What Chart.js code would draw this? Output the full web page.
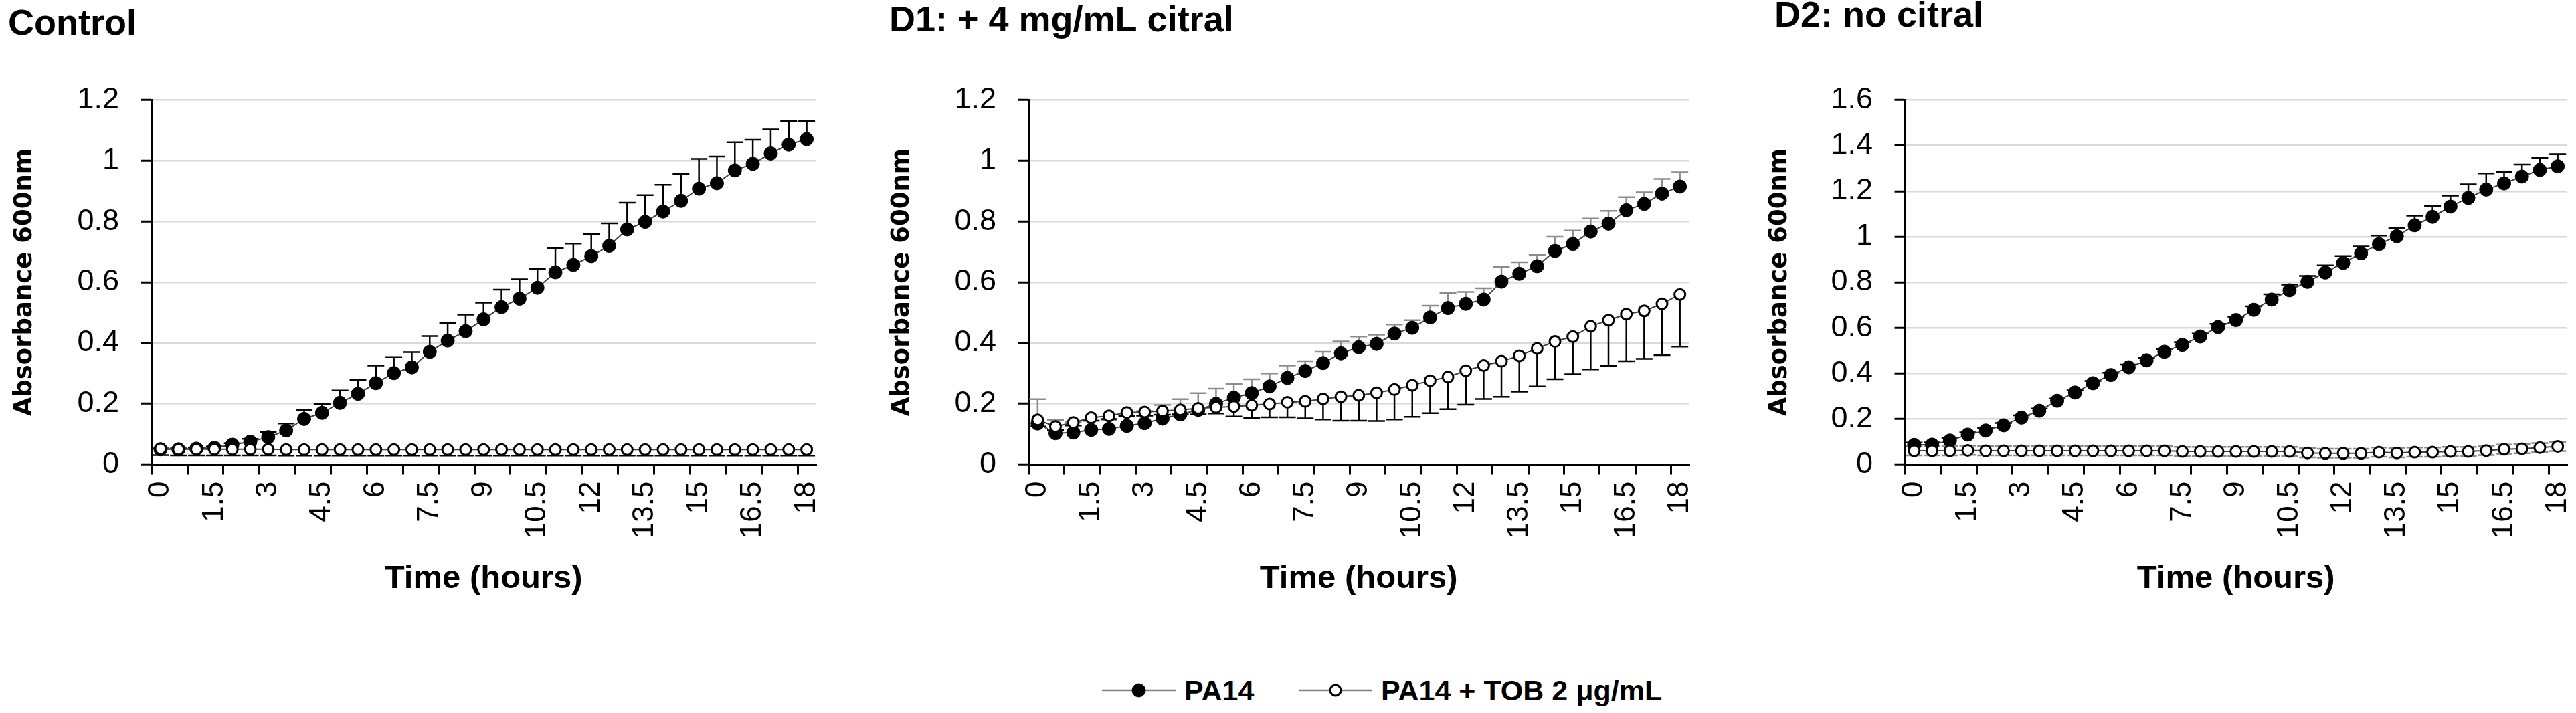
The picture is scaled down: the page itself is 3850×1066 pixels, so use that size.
<!DOCTYPE html>
<html>
<head>
<meta charset="utf-8">
<script src="https://cdn.jsdelivr.net/npm/chart.js@4.4.1/dist/chart.umd.min.js"></script>
<style>
  html, body { margin: 0; padding: 0; background: #fff; overflow: hidden; }
  body { width: 3850px; height: 1066px; position: relative; }
  canvas.panel { position: absolute; top: 0; }
  #legend { position: absolute; top: 1005px; left: 1647px; height: 54px; display: flex; align-items: center;
            font: bold 43px 'Liberation Sans', sans-serif; color: #000; white-space: nowrap; }
  #legend .item { display: flex; align-items: center; }
  #legend .item:first-child { width: 294px; }
  #legend span { margin-left: 13px; }
</style>
</head>
<body>
<canvas id="chartControl" class="panel" width="1259" height="900" style="left:0px"></canvas>
<canvas id="chartD1" class="panel" width="1253" height="900" style="left:1311px"></canvas>
<canvas id="chartD2" class="panel" width="1210" height="900" style="left:2640px"></canvas>
<div id="legend"></div>
<script>
// time points (hours), one reading every 30 min
const hours = ['0', '0.5', '1', '1.5', '2', '2.5', '3', '3.5', '4', '4.5', '5', '5.5', '6', '6.5', '7', '7.5', '8', '8.5',
  '9', '9.5', '10', '10.5', '11', '11.5', '12', '12.5', '13', '13.5', '14', '14.5', '15', '15.5', '16', '16.5', '17', '17.5', '18'];
const seriesNames = ['PA14', 'PA14 + TOB 2 μg/mL'];
const panelTitles = ['Control', 'D1: + 4 mg/mL citral', 'D2: no citral'];
const yTitle = 'Absorbance 600nm';
const xTitle = 'Time (hours)';
const yMaxes = [1.2, 1.2, 1.6];

// Control
const controlPA14 = [0.05, 0.05, 0.052, 0.055, 0.065, 0.075, 0.09, 0.112, 0.15, 0.17, 0.203, 0.233, 0.268, 0.301, 0.32, 0.371,
  0.408, 0.439, 0.478, 0.518, 0.546, 0.582, 0.633, 0.657, 0.686, 0.72, 0.774, 0.799, 0.833, 0.868, 0.908, 0.926, 0.968, 0.99,
  1.024, 1.053, 1.071];
const controlPA14Err = [0.003, 0.003, 0.003, 0.004, 0.005, 0.009, 0.017, 0.023, 0.03, 0.03, 0.041, 0.046, 0.058, 0.053, 0.05,
  0.052, 0.057, 0.054, 0.055, 0.058, 0.064, 0.062, 0.08, 0.07, 0.072, 0.074, 0.088, 0.088, 0.088, 0.089, 0.098, 0.088, 0.093,
  0.079, 0.079, 0.078, 0.06];
const controlTOB = [0.052, 0.05, 0.05, 0.05, 0.05, 0.05, 0.05, 0.049, 0.049, 0.049, 0.049, 0.049, 0.049, 0.049, 0.049, 0.049,
  0.049, 0.049, 0.049, 0.049, 0.049, 0.049, 0.049, 0.049, 0.049, 0.049, 0.049, 0.049, 0.049, 0.049, 0.049, 0.049, 0.049, 0.049,
  0.049, 0.049, 0.049];
const controlTOBErr = [0.021, 0.02, 0.02, 0.02, 0.02, 0.02, 0.02, 0.02, 0.02, 0.02, 0.02, 0.02, 0.02, 0.02, 0.02, 0.02, 0.02,
  0.02, 0.02, 0.02, 0.02, 0.02, 0.02, 0.02, 0.02, 0.02, 0.02, 0.02, 0.02, 0.02, 0.02, 0.02, 0.02, 0.02, 0.02, 0.02, 0.02];

// D1: + 4 mg/mL citral
const d1PA14 = [0.135, 0.103, 0.105, 0.114, 0.117, 0.127, 0.136, 0.151, 0.165, 0.18, 0.2, 0.22, 0.235, 0.257, 0.285, 0.308,
  0.334, 0.366, 0.386, 0.397, 0.431, 0.45, 0.484, 0.515, 0.529, 0.543, 0.602, 0.628, 0.653, 0.703, 0.726, 0.767, 0.793, 0.837,
  0.858, 0.892, 0.915];
const d1PA14Err = [0.08, 0.044, 0.035, 0.03, 0.03, 0.035, 0.04, 0.045, 0.05, 0.055, 0.05, 0.046, 0.046, 0.043, 0.041, 0.032,
  0.037, 0.039, 0.035, 0.03, 0.03, 0.025, 0.039, 0.05, 0.039, 0.037, 0.048, 0.038, 0.037, 0.047, 0.044, 0.043, 0.042, 0.043,
  0.038, 0.048, 0.047];
const d1TOB = [0.147, 0.125, 0.138, 0.154, 0.16, 0.171, 0.173, 0.176, 0.18, 0.185, 0.188, 0.191, 0.195, 0.199, 0.205, 0.208,
  0.216, 0.223, 0.228, 0.236, 0.247, 0.261, 0.276, 0.288, 0.309, 0.326, 0.34, 0.358, 0.382, 0.405, 0.421, 0.455, 0.475, 0.495,
  0.506, 0.529, 0.56];
const d1TOBErr = [0.022, 0.012, 0.01, 0.01, 0.01, 0.012, 0.012, 0.012, 0.015, 0.02, 0.02, 0.033, 0.042, 0.044, 0.05, 0.056,
  0.068, 0.079, 0.084, 0.093, 0.099, 0.104, 0.107, 0.106, 0.112, 0.11, 0.117, 0.118, 0.125, 0.124, 0.124, 0.142, 0.151, 0.155,
  0.158, 0.169, 0.172];

// D2: no citral
const d2PA14 = [0.086, 0.087, 0.105, 0.131, 0.149, 0.172, 0.206, 0.236, 0.28, 0.316, 0.357, 0.393, 0.427, 0.457, 0.495, 0.525,
  0.562, 0.603, 0.634, 0.679, 0.724, 0.765, 0.802, 0.843, 0.885, 0.927, 0.967, 1.002, 1.05, 1.087, 1.132, 1.17, 1.207, 1.234,
  1.264, 1.293, 1.309];
const d2PA14Err = [0.01, 0.01, 0.01, 0.01, 0.01, 0.01, 0.01, 0.01, 0.01, 0.01, 0.01, 0.01, 0.012, 0.012, 0.012, 0.012, 0.013,
  0.014, 0.015, 0.015, 0.023, 0.025, 0.026, 0.031, 0.03, 0.03, 0.038, 0.036, 0.042, 0.048, 0.048, 0.06, 0.071, 0.051, 0.053,
  0.054, 0.053];
const d2TOB = [0.06, 0.06, 0.06, 0.062, 0.06, 0.06, 0.06, 0.06, 0.06, 0.06, 0.06, 0.06, 0.06, 0.06, 0.06, 0.057, 0.057, 0.057,
  0.057, 0.057, 0.057, 0.057, 0.051, 0.049, 0.049, 0.049, 0.054, 0.051, 0.054, 0.054, 0.057, 0.057, 0.061, 0.067, 0.069, 0.074,
  0.079];
const d2TOBErr = [0.02, 0.02, 0.02, 0.02, 0.02, 0.02, 0.02, 0.02, 0.02, 0.02, 0.02, 0.02, 0.02, 0.02, 0.02, 0.02, 0.02, 0.02,
  0.02, 0.02, 0.02, 0.02, 0.02, 0.02, 0.02, 0.02, 0.02, 0.02, 0.02, 0.02, 0.02, 0.02, 0.02, 0.02, 0.02, 0.02, 0.02];

const textFont = "'Liberation Sans', sans-serif";

// draws the SD bars behind the markers, using the chart's own y scale
const errorBarPlugin = {
  id: 'errorBars',
  beforeDatasetsDraw(chart) {
    const ctx = chart.ctx;
    const yScale = chart.scales.y;
    chart.data.datasets.forEach((ds, di) => {
      const eb = ds.errorBars;
      if (!eb) return;
      const meta = chart.getDatasetMeta(di);
      ctx.save();
      ctx.strokeStyle = eb.color;
      ctx.lineWidth = 2.5;
      meta.data.forEach((pt, i) => {
        const value = ds.data[i];
        eb.directions.forEach(dir => {
          const yEnd = yScale.getPixelForValue(value + dir * eb.values[i]);
          ctx.beginPath();
          ctx.moveTo(pt.x, pt.y);
          ctx.lineTo(pt.x, yEnd);
          ctx.moveTo(pt.x - 12.5, yEnd);
          ctx.lineTo(pt.x + 12.5, yEnd);
          ctx.stroke();
        });
      });
      ctx.restore();
    });
  }
};

function buildDatasets(pa14, pa14Err, pa14ErrColor, tob, tobErr, tobErrColor, tobDirs) {
  return [
    {
      label: seriesNames[0],
      data: pa14,
      order: 1,
      borderColor: '#404040',
      borderWidth: 2,
      pointRadius: 10,
      pointHoverRadius: 10,
      pointBackgroundColor: '#000',
      pointBorderColor: '#000',
      pointBorderWidth: 1,
      errorBars: { values: pa14Err, color: pa14ErrColor, directions: [1] }
    },
    {
      label: seriesNames[1],
      data: tob,
      order: 0,
      borderColor: '#404040',
      borderWidth: 2,
      pointRadius: 8,
      pointHoverRadius: 8,
      pointBackgroundColor: '#fff',
      pointBorderColor: '#000',
      pointBorderWidth: 3,
      errorBars: { values: tobErr, color: tobErrColor, directions: tobDirs }
    }
  ];
}

function makePanel(canvasId, idx, datasets, lay) {
  const ctx = document.getElementById(canvasId).getContext('2d');
  return new Chart(ctx, {
    type: 'line',
    data: { labels: hours, datasets: datasets },
    plugins: [errorBarPlugin],
    options: {
      responsive: false,
      animation: false,
      devicePixelRatio: 1,
      layout: { padding: { left: lay.padLeft, right: lay.padRight, top: 0, bottom: 0 } },
      plugins: {
        legend: { display: false },
        tooltip: { enabled: false },
        title: {
          display: true,
          text: panelTitles[idx],
          align: 'start',
          color: '#000',
          font: { family: textFont, size: 54, weight: 'bold', lineHeight: 1.2 },
          padding: { top: lay.titleTop, bottom: 149.5 - 64.8 - lay.titleTop }
        }
      },
      scales: {
        x: {
          type: 'category',
          offset: true,
          grid: {
            offset: true,
            drawOnChartArea: false,
            tickLength: 15,
            lineWidth: 3,
            color: c => (c.index % 2 === 0 ? '#000' : 'rgba(0,0,0,0)')
          },
          border: { color: '#000', width: 3 },
          ticks: {
            autoSkip: false,
            minRotation: 90,
            maxRotation: 90,
            padding: 10,
            color: '#000',
            font: { family: textFont, size: 44 },
            callback: function (val, i) { return i % 3 === 0 ? this.getLabelForValue(val) : ''; }
          },
          title: {
            display: true,
            text: xTitle,
            color: '#000',
            font: { family: textFont, size: 49, weight: 'bold', lineHeight: 1.2 },
            padding: { top: 0, bottom: 5 }
          },
          afterFit: s => { s.height = 205.5; s.paddingLeft = 0; s.paddingRight = 0; }
        },
        y: {
          min: 0,
          max: yMaxes[idx],
          ticks: {
            stepSize: 0.2,
            padding: 32.5,
            color: '#000',
            font: { family: textFont, size: 45 },
            callback: v => String(Math.round(v * 10) / 10)
          },
          grid: {
            color: c => (c.tick && c.tick.value === 0 ? 'rgba(0,0,0,0)' : '#d9d9d9'),
            lineWidth: 2.5,
            tickColor: '#000',
            tickLength: 16,
            tickWidth: 3
          },
          border: { color: '#000', width: 3 },
          title: {
            display: true,
            text: yTitle,
            color: '#000',
            font: { family: 'DejaVu Sans', size: 37, weight: 'bold', lineHeight: 1.2 },
            padding: { top: lay.yTitlePad, bottom: 0 }
          },
          afterFit: s => { s.width = lay.yWidth; }
        }
      }
    }
  });
}

const chartControl = makePanel('chartControl', 0,
  buildDatasets(controlPA14, controlPA14Err, '#000', controlTOB, controlTOBErr, '#000', [-1]),
  { padLeft: 12, padRight: 40, yWidth: 214.5, yTitlePad: 2.8, titleTop: 4.6 });

const chartD1 = makePanel('chartD1', 1,
  buildDatasets(d1PA14, d1PA14Err, '#8c8c8c', d1TOB, d1TOBErr, '#000', [-1]),
  { padLeft: 18, padRight: 40, yWidth: 208.5, yTitlePad: -3.2, titleTop: -0.4 });

const chartD2 = makePanel('chartD2', 2,
  buildDatasets(d2PA14, d2PA14Err, '#000', d2TOB, d2TOBErr, '#8c8c8c', [1, -1]),
  { padLeft: 12, padRight: 14, yWidth: 195.5, yTitlePad: -14.2, titleTop: -7.4 });

// shared legend under the middle panel, built from the datasets
function legendIcon(ds) {
  const c = document.createElement('canvas');
  c.width = 110;
  c.height = 26;
  const g = c.getContext('2d');
  g.strokeStyle = '#7f7f7f';
  g.lineWidth = 2.5;
  g.beginPath();
  g.moveTo(0, 13);
  g.lineTo(110, 13);
  g.stroke();
  g.beginPath();
  g.arc(55, 13, ds.pointRadius, 0, Math.PI * 2);
  g.fillStyle = ds.pointBackgroundColor;
  g.fill();
  g.lineWidth = ds.pointBorderWidth;
  g.strokeStyle = ds.pointBorderColor;
  g.stroke();
  return c;
}

const legendBox = document.getElementById('legend');
chartD1.data.datasets.forEach(ds => {
  const item = document.createElement('div');
  item.className = 'item';
  item.appendChild(legendIcon(ds));
  const label = document.createElement('span');
  label.textContent = ds.label;
  item.appendChild(label);
  legendBox.appendChild(item);
});
</script>
</body>
</html>
